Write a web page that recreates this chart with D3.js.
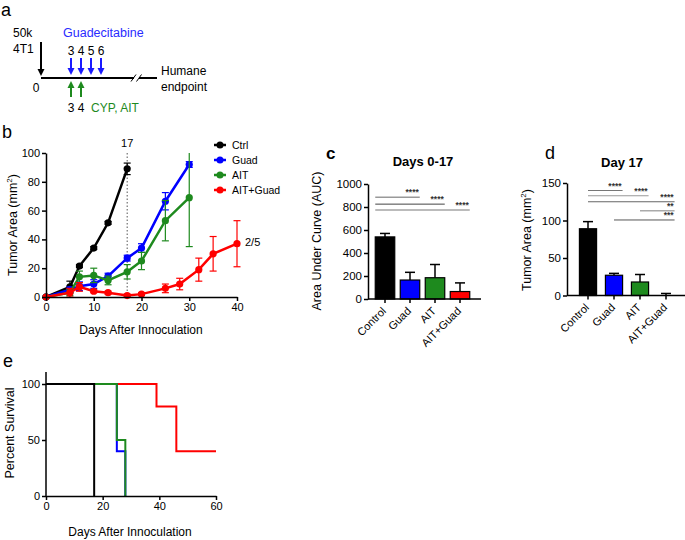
<!DOCTYPE html>
<html>
<head>
<meta charset="utf-8">
<script src="https://cdn.jsdelivr.net/npm/d3@7"></script>
<style>
body { margin: 0; background: #fff; }
svg text { font-family: "Liberation Sans", Arial, sans-serif; }
</style>
</head>
<body>
<div id="fig"></div>
<script>
// ---- data ----
// panel a: schedule
var guadDoseDays = [3, 4, 5, 6];
var treatDays = [3, 4];

// panel b: tumor growth (mm2)
var days = [0, 5, 7, 10, 13, 17, 20, 25, 28, 32, 35, 40];
var daysGA = [0, 5, 7, 10, 13, 17, 20, 25, 30];
var ctrlArea = [0, 7, 21.5, 34, 51.5, 89];
var ctrlErr = [0, 4, 1, 1, 1, 4];
var guadArea = [0, 5, 7.5, 9, 14.5, 27, 34, 66.5, 92];
var guadErr = [0, 2, 3, 3, 2, 2, 3, 6, 2];
var aitArea = [0, 3, 14, 15, 11.5, 17.5, 25, 53, 69];
var aitErr = [0, 2, 4, 5, 3, 5, 6, 14, 34];
var comboArea = [0, 3, 7, 4, 3, 1, 2, 6, 9, 19, 30, 37];
var comboErr = [0, 3, 3, 1, 1, 1, 1, 3, 4, 8, 12, 16];
var seriesNames = ["Ctrl", "Guad", "AIT", "AIT+Guad"];
var colors = ["#000000", "#0000ff", "#1e8a1e", "#ff0000"];

// panels c, d: bar charts
var groups = ["Control", "Guad", "AIT", "AIT+Guad"];
var aucMean = [540, 165, 185, 65];
var aucErr = [30, 67, 115, 75];
var aucSig = [[0, 1, 885, "****"], [0, 2, 825, "****"], [0, 3, 775, "****"]];
var d17Mean = [89, 27, 18, 0];
var d17Err = [9.5, 2.5, 10, 2.7];
var d17Sig = [[0, 1, 140, "****"], [0, 2, 133, "****"], [0, 3, 125, "****"], [2, 3, 113, "**"], [1, 3, 100.7, "***"]];

// panel e: survival
var survTimeCtrl = [0, 17], survCtrl = [100, 0];
var survTimeGuad = [0, 25, 28], survGuad = [100, 40, 0];
var survTimeAit = [0, 25, 28], survAit = [100, 50, 0];
var survTimeCombo = [0, 39, 46, 60], survCombo = [100, 80, 40, 40];

var FONT = "'Liberation Sans', Arial, sans-serif";
var svg = d3.select("#fig").append("svg")
    .attr("width", 685)
    .attr("height", 540);

function txt(x, y, s, size, opts) {
    opts = opts || {};
    return svg.append("text")
        .attr("x", x).attr("y", y)
        .attr("font-size", size)
        .attr("font-weight", opts.bold ? "bold" : null)
        .attr("fill", opts.fill || "#000")
        .attr("text-anchor", opts.anchor || "start")
        .text(s);
}

function styleAxis(g, fs) {
    g.attr("font-family", FONT).attr("font-size", fs);
    g.selectAll("path, line").attr("stroke", "#000").attr("stroke-width", 1.5);
    g.selectAll("text").attr("fill", "#000");
}

// ================= panel a =================
txt(1, 16, "a", 18);
txt(13, 37, "50k", 12);
txt(13, 53, "4T1", 12);
txt(63, 37, "Guadecitabine", 12.5, { fill: "#2a2aff" });

var ta = d3.scaleLinear().domain([0, 6]).range([41, 101]);
var lineY = 78;

function arrow(x, y1, y2, color) {
    var dir = y2 > y1 ? 1 : -1;
    svg.append("line")
        .attr("x1", x).attr("x2", x)
        .attr("y1", y1).attr("y2", y2 - dir * 6)
        .attr("stroke", color).attr("stroke-width", 2);
    svg.append("path")
        .attr("d", "M" + (x - 3.5) + "," + (y2 - dir * 7) + "L" + (x + 3.5) + "," + (y2 - dir * 7) + "L" + x + "," + y2 + "Z")
        .attr("fill", color);
}

arrow(ta(0), 42, 76, "#000");
svg.append("line")
    .attr("x1", ta(0)).attr("x2", 157)
    .attr("y1", lineY).attr("y2", lineY)
    .attr("stroke", "#000").attr("stroke-width", 2);
svg.append("rect").attr("x", 134).attr("y", lineY - 3).attr("width", 5).attr("height", 6).attr("fill", "#fff");
[133.5, 139].forEach(function(x) {
    svg.append("line")
        .attr("x1", x - 2.5).attr("x2", x + 2.5)
        .attr("y1", lineY + 3.5).attr("y2", lineY - 3.5)
        .attr("stroke", "#000").attr("stroke-width", 1);
});
txt(ta(0) - 5, 92, "0", 12, { anchor: "middle" });
txt(161, 75, "Humane", 12);
txt(161, 91, "endpoint", 12);

guadDoseDays.forEach(function(d) {
    txt(ta(d), 55, d, 12, { anchor: "middle" });
    arrow(ta(d), 58, 75, "#1a1aff");
});
treatDays.forEach(function(d) {
    arrow(ta(d), 97, 81, "#1e8a1e");
    txt(ta(d), 112, d, 12, { anchor: "middle" });
});
txt(91, 112, "CYP, AIT", 12, { fill: "#1e8a1e" });

// ================= panel b =================
txt(2, 138, "b", 18);
var bx = d3.scaleLinear().domain([0, 40]).range([46, 237]);
var by = d3.scaleLinear().domain([0, 100]).range([297, 153]);

svg.append("line")
    .attr("x1", bx(17)).attr("x2", bx(17))
    .attr("y1", by(100)).attr("y2", by(0))
    .attr("stroke", "#555").attr("stroke-width", 1)
    .attr("stroke-dasharray", "1.5,2");
txt(bx(17), 147, "17", 11, { anchor: "middle" });

svg.append("defs").append("clipPath").attr("id", "clipB")
    .append("rect").attr("x", 30).attr("y", by(100)).attr("width", 230).attr("height", 160);

var bSeries = [
    { x: days, area: ctrlArea, err: ctrlErr },
    { x: daysGA, area: guadArea, err: guadErr },
    { x: daysGA, area: aitArea, err: aitErr },
    { x: days, area: comboArea, err: comboErr }
];
var plotB = svg.append("g").attr("clip-path", "url(#clipB)");
var lineB = d3.line().x(function(d) { return bx(d[0]); }).y(function(d) { return by(d[1]); });

bSeries.forEach(function(s, i) {
    var pts = s.area.map(function(v, k) { return [s.x[k], v, s.err[k]]; });
    var g = plotB.append("g");
    pts.forEach(function(p) {
        if (!p[2]) return;
        var x = bx(p[0]);
        g.append("line").attr("x1", x).attr("x2", x)
            .attr("y1", by(p[1] - p[2])).attr("y2", by(p[1] + p[2]))
            .attr("stroke", colors[i]).attr("stroke-width", 1.2);
        [p[1] - p[2], p[1] + p[2]].forEach(function(v) {
            g.append("line").attr("x1", x - 3.5).attr("x2", x + 3.5)
                .attr("y1", by(v)).attr("y2", by(v))
                .attr("stroke", colors[i]).attr("stroke-width", 1.2);
        });
    });
    g.append("path").datum(pts).attr("d", lineB)
        .attr("fill", "none").attr("stroke", colors[i]).attr("stroke-width", 2.5);
    g.selectAll("circle").data(pts).enter().append("circle")
        .attr("cx", function(d) { return bx(d[0]); })
        .attr("cy", function(d) { return by(d[1]); })
        .attr("r", 3.6).attr("fill", colors[i]);
});

var bxAxis = svg.append("g").attr("transform", "translate(0," + by(0) + ")")
    .call(d3.axisBottom(bx).tickValues([0, 10, 20, 30, 40]).tickSize(4).tickSizeOuter(0).tickPadding(2));
styleAxis(bxAxis, 11);
var byAxis = svg.append("g").attr("transform", "translate(" + bx(0) + ",0)")
    .call(d3.axisLeft(by).tickValues([0, 20, 40, 60, 80, 100]).tickSize(4).tickSizeOuter(0).tickPadding(2));
styleAxis(byAxis, 11);

txt(141, 334, "Days After Innoculation", 12, { anchor: "middle" });
var ytB = svg.append("text")
    .attr("transform", "translate(17,225) rotate(-90)")
    .attr("text-anchor", "middle").attr("font-size", 12.5);
ytB.append("tspan").text("Tumor Area (mm");
ytB.append("tspan").attr("font-size", 8).attr("dy", -5).text("2");
ytB.append("tspan").attr("dy", 5).text(")");

// legend
seriesNames.forEach(function(n, i) {
    var y = 145 + i * 15;
    svg.append("line").attr("x1", 214).attr("x2", 226).attr("y1", y).attr("y2", y)
        .attr("stroke", colors[i]).attr("stroke-width", 2.5);
    svg.append("circle").attr("cx", 220).attr("cy", y).attr("r", 3.5).attr("fill", colors[i]);
    txt(232, y + 4, n, 10.5);
});
txt(245, 246, "2/5", 11);

// ================= bar panels =================
function barPanel(cfg) {
    var x = d3.scaleBand().domain(groups).range(cfg.xr)
        .paddingInner(cfg.pin).paddingOuter(cfg.pin / 2);
    var y = d3.scaleLinear().domain([0, cfg.max]).range(cfg.yr);
    var g = svg.append("g");

    // significance lines
    cfg.sig.forEach(function(s, i) {
        var x0 = cfg.sigFromCenter ? x(groups[s[0]]) + x.bandwidth() / 2 : x(groups[s[0]]);
        var x1 = x(groups[s[1]]) + x.bandwidth();
        g.append("line").attr("x1", x0).attr("x2", x1)
            .attr("y1", y(s[2])).attr("y2", y(s[2]))
            .attr("stroke", cfg.sigColors[i]).attr("stroke-width", cfg.sigWidths[i]);
        g.append("text").attr("x", x1 - 1).attr("y", y(s[2]) - 2)
            .attr("text-anchor", "end").attr("font-size", 8.5).attr("font-weight", "bold")
            .attr("fill", "#333").text(s[3]);
    });

    // bars
    groups.forEach(function(name, i) {
        var bx0 = x(name), w = x.bandwidth(), cx = bx0 + w / 2;
        var top = cfg.mean[i] + cfg.err[i];
        g.append("line").attr("x1", cx).attr("x2", cx)
            .attr("y1", y(cfg.mean[i])).attr("y2", y(top))
            .attr("stroke", "#000").attr("stroke-width", 1.5);
        g.append("line").attr("x1", cx - 5).attr("x2", cx + 5)
            .attr("y1", y(top)).attr("y2", y(top))
            .attr("stroke", "#000").attr("stroke-width", 1.5);
        if (cfg.mean[i] > 0) {
            g.append("rect").attr("x", bx0).attr("width", w)
                .attr("y", y(cfg.mean[i])).attr("height", y(0) - y(cfg.mean[i]))
                .attr("fill", colors[i]).attr("stroke", "#000").attr("stroke-width", 1.2);
        }
    });

    // axes
    var xa = g.append("g").attr("transform", "translate(0," + y(0) + ")")
        .call(d3.axisBottom(x).tickSize(4).tickSizeOuter(0));
    xa.select(".domain").remove();
    xa.append("line").attr("x1", cfg.axisX[0]).attr("x2", cfg.axisX[1]);
    styleAxis(xa, 11);
    xa.selectAll(".tick text")
        .attr("x", 0).attr("y", 0).attr("dy", "0.35em")
        .attr("text-anchor", "end")
        .attr("transform", "translate(-1,10) rotate(-45)");

    var ya = g.append("g").attr("transform", "translate(" + cfg.axisX[0] + ",0)")
        .call(d3.axisLeft(y).tickValues(cfg.ticks).tickFormat(d3.format("d"))
            .tickSize(4).tickSizeOuter(0).tickPadding(2));
    styleAxis(ya, 11.5);
}

// panel c
txt(326, 159, "c", 17, { bold: true });
txt(423, 166, "Days 0-17", 13, { bold: true, anchor: "middle" });
barPanel({
    xr: [372.5, 472.5], pin: 0.22, yr: [299, 184], max: 1000,
    ticks: [0, 200, 400, 600, 800, 1000], axisX: [368, 481],
    mean: aucMean, err: aucErr, sig: aucSig, sigFromCenter: false,
    sigColors: ["#999", "#444", "#bbb"], sigWidths: [1.5, 1, 2]
});
svg.append("text").attr("transform", "translate(321,241) rotate(-90)")
    .attr("text-anchor", "middle").attr("font-size", 12.5).text("Area Under Curve (AUC)");

// panel d
txt(545, 159, "d", 18);
txt(622, 167, "Day 17", 13, { bold: true, anchor: "middle" });
barPanel({
    xr: [575, 679], pin: 0.34, yr: [295.5, 183], max: 150,
    ticks: [0, 50, 100, 150], axisX: [567, 685],
    mean: d17Mean, err: d17Err, sig: d17Sig, sigFromCenter: true,
    sigColors: ["#777", "#999", "#666", "#aaa", "#555"], sigWidths: [1, 1.2, 1.2, 1.5, 1]
});
var ytD = svg.append("text")
    .attr("transform", "translate(531,240) rotate(-90)")
    .attr("text-anchor", "middle").attr("font-size", 12.5);
ytD.append("tspan").text("Tumor Area (mm");
ytD.append("tspan").attr("font-size", 8).attr("dy", -5).text("2");
ytD.append("tspan").attr("dy", 5).text(")");

// ================= panel e =================
txt(3, 367, "e", 18);
var ex = d3.scaleLinear().domain([0, 60]).range([46, 216]);
var ey = d3.scaleLinear().domain([0, 100]).range([496, 384]);
var stepLine = d3.line().curve(d3.curveStepAfter)
    .x(function(d) { return ex(d[0]); }).y(function(d) { return ey(d[1]); });

var surv = [
    { t: survTimeCombo, s: survCombo, c: colors[3] },
    { t: survTimeGuad, s: survGuad, c: colors[1] },
    { t: survTimeAit, s: survAit, c: colors[2] },
    { t: survTimeCtrl, s: survCtrl, c: colors[0] }
];
surv.forEach(function(d) {
    var pts = d.t.map(function(t, k) { return [t, d.s[k]]; });
    svg.append("path").datum(pts).attr("d", stepLine)
        .attr("fill", "none").attr("stroke", d.c).attr("stroke-width", 2);
});

var exAxis = svg.append("g").attr("transform", "translate(0," + ey(0) + ")")
    .call(d3.axisBottom(ex).tickValues([0, 20, 40, 60]).tickSize(4).tickSizeOuter(0).tickPadding(2));
styleAxis(exAxis, 11);
var eyAxis = svg.append("g").attr("transform", "translate(" + ex(0) + ",0)")
    .call(d3.axisLeft(ey).tickValues([0, 50, 100]).tickSize(4).tickSizeOuter(0).tickPadding(2));
eyAxis.select(".domain").remove();
eyAxis.append("line").attr("y1", 372).attr("y2", ey(0));
styleAxis(eyAxis, 11);

txt(130, 536, "Days After Innoculation", 12, { anchor: "middle" });
svg.append("text").attr("transform", "translate(14,433) rotate(-90)")
    .attr("text-anchor", "middle").attr("font-size", 12.5).text("Percent Survival");
</script>
</body>
</html>
